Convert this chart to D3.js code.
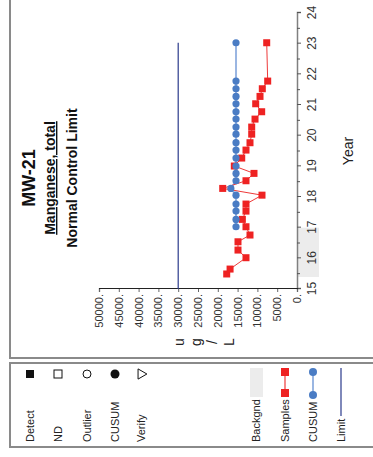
<!DOCTYPE html>
<html>
<head>
<meta charset="utf-8">
<script src="https://cdn.jsdelivr.net/npm/d3@7"></script>
<style>
  body { margin: 0; background: #fff; }
  svg { display: block; font-family: "Liberation Sans", Arial, sans-serif; }
</style>
</head>
<body>
<svg id="chart" width="373" height="457"></svg>
<script>
// ---- data ----
const sampleYears = [15.49, 15.65, 16.02, 16.27, 16.54, 16.76, 17.03, 17.27, 17.54, 17.77, 18.06, 18.28, 18.53, 18.77, 19.01, 19.27, 19.53, 19.77, 20.05, 20.28, 20.54, 20.78, 21.04, 21.28, 21.53, 21.78, 23.03];
const sampleValues = [17750, 16900, 12880, 14900, 14900, 11870, 12880, 13800, 12880, 12880, 8840, 18760, 12880, 10860, 15830, 13960, 12880, 11870, 11440, 11440, 10600, 8920, 10430, 9340, 8760, 7400, 7650];
const cusumYears = [17.03, 17.27, 17.54, 17.77, 18.06, 18.28, 18.53, 18.77, 19.01, 19.27, 19.53, 19.77, 20.05, 20.28, 20.54, 20.78, 21.04, 21.28, 21.53, 21.78, 23.03];
const cusumValues = [15400, 15400, 15400, 15400, 15400, 16700, 15400, 15400, 15400, 15400, 15400, 15400, 15400, 15400, 15400, 15400, 15400, 15400, 15400, 15400, 15400];
const limitValue = 30000;
const limitYears = [15, 23.03];
const backgroundYears = [15.39, 17.0];
const yearTicks = [15, 16, 17, 18, 19, 20, 21, 22, 23, 24];
const yearMinorTicks = [15.5, 16.5, 17.5, 18.5, 19.5, 20.5, 21.5, 22.5, 23.5];
const valueTicks = [0, 5000, 10000, 15000, 20000, 25000, 30000, 35000, 40000, 45000, 50000];
const titleLines = ["MW-21", "Manganese, total", "Normal Control Limit"];
const unitLetters = ["u", "g", "/", "L"];
const legendSymbols = ["Detect", "ND", "Outlier", "CUSUM", "Verify"];
const legendSeries = ["Backgnd", "Samples", "CUSUM", "Limit"];

const RED = "#ee2222", REDLINE = "#ee3a3a";
const BLUE = "#4a7cc4", BLUELINE = "#9ab6e2";
const NAVY = "#2b3a8c";

const svg = d3.select("#chart");

// frames (picture coordinates)
svg.append("rect").attr("x", 10).attr("y", -10).attr("width", 420).attr("height", 368)
  .attr("fill", "none").attr("stroke", "#8a8a8a").attr("stroke-width", 2);
svg.append("rect").attr("x", 10).attr("y", 363).attr("width", 420).attr("height", 84)
  .attr("fill", "none").attr("stroke", "#8a8a8a").attr("stroke-width", 2);

// whole chart drawn in landscape orientation, then rotated
const g = svg.append("g").attr("transform", "translate(0,457) rotate(-90)");

const x = d3.scaleLinear().domain([15, 24]).range([168, 444]);
const y = d3.scaleLinear().domain([0, 50000]).range([297, 99]);

// background band under the year axis
g.append("rect")
  .attr("x", x(backgroundYears[0])).attr("y", 298)
  .attr("width", x(backgroundYears[1]) - x(backgroundYears[0])).attr("height", 21)
  .attr("fill", "#ececec");

// year axis
const xAxis = g.append("g").attr("transform", "translate(0,297)")
  .call(d3.axisBottom(x).tickValues(yearTicks).tickSize(4).tickPadding(6).tickFormat(d3.format("d")));
xAxis.select(".domain").attr("stroke", "#808080").attr("stroke-width", 1.5);
xAxis.selectAll(".tick line").attr("stroke", "#555");
xAxis.selectAll(".tick text").attr("font-size", 12).attr("fill", "#333").attr("font-family", "Liberation Sans, Arial, sans-serif");
g.append("g").selectAll("line").data(yearMinorTicks).join("line")
  .attr("x1", d => x(d)).attr("x2", d => x(d)).attr("y1", 297).attr("y2", 300)
  .attr("stroke", "#555");

// value axis
const yAxis = g.append("g").attr("transform", "translate(168,0)")
  .call(d3.axisLeft(y).tickValues(valueTicks).tickSize(3).tickPadding(2).tickFormat(d => d + "."));
yAxis.select(".domain").attr("stroke", "#222").attr("stroke-width", 1.2);
yAxis.selectAll(".tick line").attr("stroke", "#666");
yAxis.selectAll(".tick text").attr("font-size", 11).attr("fill", "#333").attr("font-family", "Liberation Sans, Arial, sans-serif");

// axis titles
g.append("text").attr("x", (x(15) + x(24)) / 2).attr("y", 353)
  .attr("text-anchor", "middle").attr("font-size", 14).attr("fill", "#222").text("Year");
g.append("g").selectAll("text").data(unitLetters).join("text")
  .attr("x", 115).attr("y", (d, i) => 184 + i * 16.7)
  .attr("text-anchor", "middle").attr("font-size", 14).attr("fill", "#222").text(d => d);

// titles
const titleX = 279;
g.append("text").attr("x", titleX).attr("y", 35).attr("text-anchor", "middle")
  .attr("font-size", 18).attr("font-weight", "bold").attr("fill", "#111").text(titleLines[0]);
g.append("text").attr("x", titleX).attr("y", 55).attr("text-anchor", "middle")
  .attr("font-size", 14).attr("font-weight", "bold").attr("fill", "#111")
  .style("text-decoration", "underline").text(titleLines[1]);
g.append("text").attr("x", titleX).attr("y", 77).attr("text-anchor", "middle")
  .attr("font-size", 14).attr("font-weight", "bold").attr("fill", "#111").text(titleLines[2]);

// limit line
g.append("line")
  .attr("x1", x(limitYears[0])).attr("x2", x(limitYears[1]))
  .attr("y1", y(limitValue)).attr("y2", y(limitValue))
  .attr("stroke", NAVY).attr("stroke-width", 1.2);

// cusum series
const cusum = cusumYears.map((d, i) => [d, cusumValues[i]]);
g.append("path").datum(cusum)
  .attr("d", d3.line().x(d => x(d[0])).y(d => y(d[1])))
  .attr("fill", "none").attr("stroke", BLUELINE).attr("stroke-width", 2);

// samples series
const samples = sampleYears.map((d, i) => [d, sampleValues[i]]);
g.append("path").datum(samples)
  .attr("d", d3.line().x(d => x(d[0])).y(d => y(d[1])))
  .attr("fill", "none").attr("stroke", REDLINE).attr("stroke-width", 1);
g.append("g").selectAll("rect").data(samples).join("rect")
  .attr("x", d => x(d[0]) - 3.5).attr("y", d => y(d[1]) - 3.5)
  .attr("width", 7).attr("height", 7).attr("fill", RED);

g.append("g").selectAll("circle").data(cusum).join("circle")
  .attr("cx", d => x(d[0])).attr("cy", d => y(d[1])).attr("r", 3.6)
  .attr("fill", BLUE);

// legend (landscape coordinates)
const leg = g.append("g");
const symY = [30, 58, 87, 115, 141];
const symX = 83;
leg.selectAll("text.sym").data(legendSymbols).join("text")
  .attr("class", "sym").attr("x", 15).attr("y", (d, i) => symY[i]).attr("dy", "0.35em")
  .attr("font-size", 11).attr("fill", "#222").text(d => d);
leg.append("rect").attr("x", symX - 4).attr("y", symY[0] - 4).attr("width", 8).attr("height", 8).attr("fill", "#111");
leg.append("rect").attr("x", symX - 4).attr("y", symY[1] - 4).attr("width", 8).attr("height", 8)
  .attr("fill", "#fff").attr("stroke", "#111").attr("stroke-width", 1);
leg.append("circle").attr("cx", symX).attr("cy", symY[2]).attr("r", 4)
  .attr("fill", "#fff").attr("stroke", "#111").attr("stroke-width", 1);
leg.append("circle").attr("cx", symX).attr("cy", symY[3]).attr("r", 4.5).attr("fill", "#111");
leg.append("path").attr("transform", `translate(${symX},${symY[4]}) rotate(180)`)
  .attr("d", d3.symbol(d3.symbolTriangle, 45)())
  .attr("fill", "#fff").attr("stroke", "#111").attr("stroke-width", 1);

const serY = [256.5, 285, 313, 341];
leg.selectAll("text.ser").data(legendSeries).join("text")
  .attr("class", "ser").attr("x", 15).attr("y", (d, i) => serY[i]).attr("dy", "0.35em")
  .attr("font-size", 11).attr("fill", "#222").text(d => d);
// Backgnd swatch
leg.append("rect").attr("x", 60).attr("y", serY[0] - 6.5).attr("width", 29).attr("height", 13).attr("fill", "#ececec");
// Samples
leg.append("line").attr("x1", 64).attr("x2", 85).attr("y1", serY[1]).attr("y2", serY[1]).attr("stroke", REDLINE).attr("stroke-width", 1.2);
leg.selectAll("rect.ls").data([64, 85]).join("rect").attr("class", "ls")
  .attr("x", d => d - 4).attr("y", serY[1] - 4).attr("width", 8).attr("height", 8).attr("fill", RED);
// CUSUM
leg.append("line").attr("x1", 62).attr("x2", 85).attr("y1", serY[2]).attr("y2", serY[2]).attr("stroke", BLUELINE).attr("stroke-width", 2);
leg.selectAll("circle.lc").data([62, 85]).join("circle").attr("class", "lc")
  .attr("cx", d => d).attr("cy", serY[2]).attr("r", 4).attr("fill", BLUE);
// Limit
leg.append("line").attr("x1", 41).attr("x2", 89).attr("y1", serY[3]).attr("y2", serY[3]).attr("stroke", NAVY).attr("stroke-width", 1.2);
</script>
</body>
</html>
